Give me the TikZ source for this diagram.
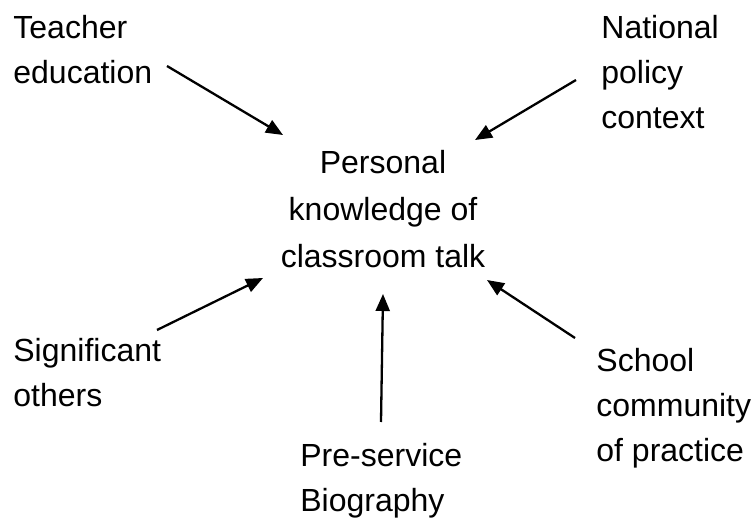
\documentclass[tikz,border=0pt]{standalone}
\usepackage{fontspec}
\setmainfont{Liberation Sans}
\usetikzlibrary{arrows.meta, positioning}

\begin{document}
\begin{tikzpicture}[
    x=0.5pt, y=0.5pt,
    every node/.style={font=\fontsize{16}{22.5}\selectfont, inner sep=0pt},
    factor/.style={align=left, anchor=north west},
    core/.style={align=center, anchor=north, font=\fontsize{16}{23.5}\selectfont},
    arrow/.style={-{Triangle[length=8.5pt, width=7pt]}, line width=1.15pt}
]
\useasboundingbox (0,0) rectangle (755,520);

% Central node
\node[core] (talk) at (383, 370) {Personal\\knowledge of\\classroom talk};

% ============ INFLUENCES ============
\node[factor] (teacher) at (13, 505) {Teacher\\education};
\node[factor] (policy) at (601, 505) {National\\policy\\context};
\node[factor] (others) at (13, 182) {Significant\\others};
\node[factor] (bio) at (300, 77) {Pre-service\\Biography};
\node[factor] (school) at (596, 172) {School\\community\\of practice};

% ============ ARROWS ============
\draw[arrow] ([shift={(154,-51)}]teacher.north west) -- ([shift={(-100,15)}]talk.north);
\draw[arrow] ([shift={(-25,-65)}]policy.north west) -- ([shift={(92,10)}]talk.north);
\draw[arrow] ([shift={(144,8)}]others.north west) -- ([shift={(-120,-128)}]talk.north);
\draw[arrow] ([shift={(81,21)}]bio.north west) -- ([shift={(0,-144)}]talk.north);
\draw[arrow] ([shift={(-21,10)}]school.north west) -- ([shift={(104,-130)}]talk.north);

\end{tikzpicture}
\end{document}
